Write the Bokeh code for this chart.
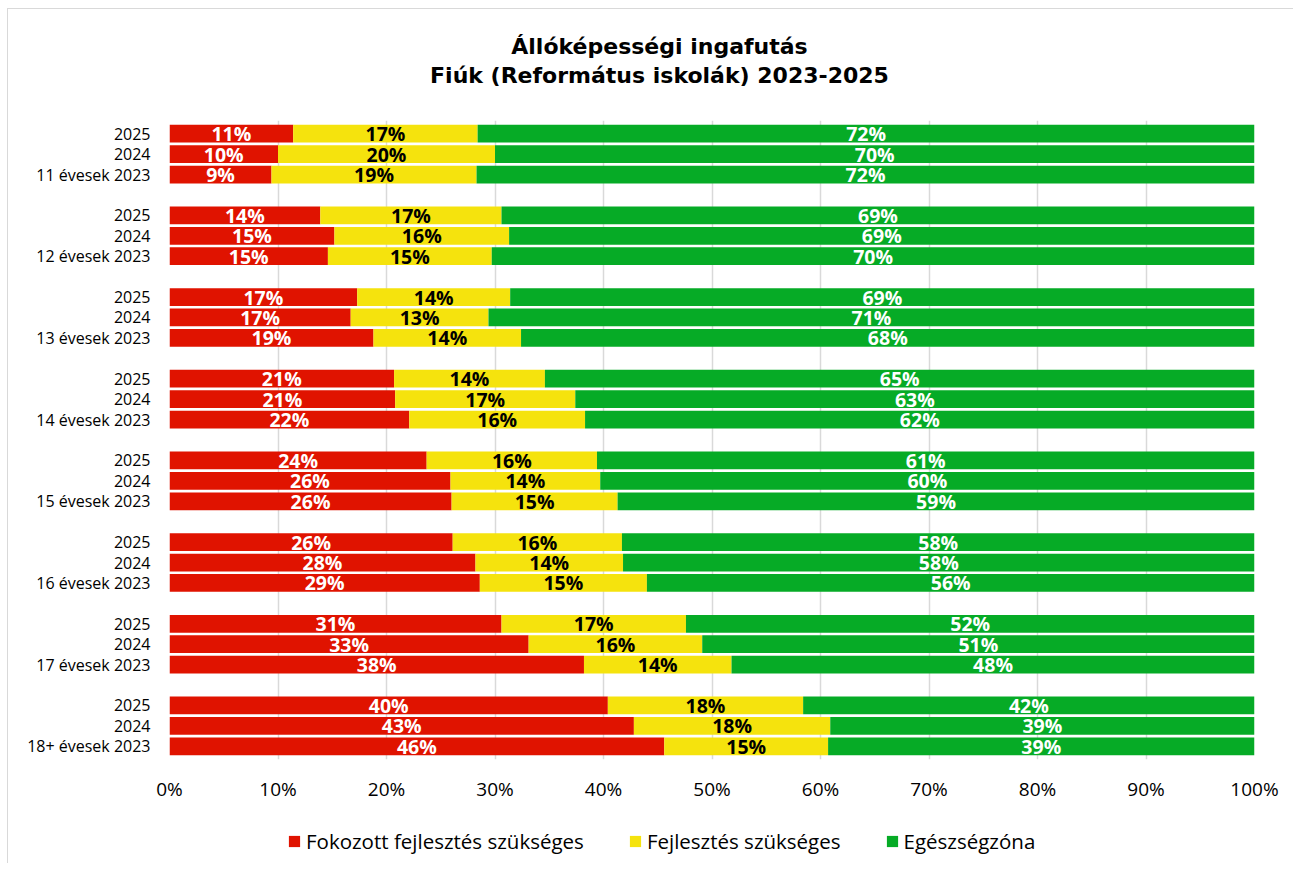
from bokeh.plotting import figure
from bokeh.layouts import column
from bokeh.models import (ColumnDataSource, Range1d, FixedTicker, PrintfTickFormatter,
                          Legend, LegendItem)
from bokeh.core.properties import value
from bokeh.embed import file_html
from bokeh.resources import INLINE

# ---------------- data ----------------
title_lines = ["Állóképességi ingafutás", "Fiúk (Református iskolák) 2023-2025"]
groups = ["11 évesek", "12 évesek", "13 évesek", "14 évesek",
          "15 évesek", "16 évesek", "17 évesek", "18+ évesek"]
years = ["2025", "2024", "2023"]
series_names = ["Fokozott fejlesztés szükséges", "Fejlesztés szükséges", "Egészségzóna"]

# values per group, in order 2025, 2024, 2023 (percent)
fokozott = [11.4, 10.0, 9.4,
            13.9, 15.2, 14.6,
            17.3, 16.7, 18.8,
            20.7, 20.8, 22.1,
            23.7, 25.9, 26.0,
            26.1, 28.2, 28.6,
            30.6, 33.1, 38.2,
            40.4, 42.8, 45.6]
fejlesztes = [17.0, 20.0, 18.9,
              16.7, 16.1, 15.1,
              14.1, 12.7, 13.6,
              13.9, 16.6, 16.2,
              15.7, 13.8, 15.3,
              15.6, 13.6, 15.4,
              17.0, 16.0, 13.6,
              18.0, 18.1, 15.1]
egeszseg = [71.6, 70.0, 71.7,
            69.4, 68.7, 70.3,
            68.6, 70.6, 67.6,
            65.4, 62.6, 61.7,
            60.6, 60.3, 58.7,
            58.3, 58.2, 56.0,
            52.4, 50.9, 48.2,
            41.6, 39.1, 39.3]
x_ticks = [0, 10, 20, 30, 40, 50, 60, 70, 80, 90, 100]

colors = ["#E01300", "#F5E30D", "#06AB26"]
label_colors = ["white", "black", "white"]

# ---------------- geometry ----------------
TOTAL_W = 1285
TITLE_H = 111
LEFT_B, RIGHT_B = 161, 39
BAR_AREA_H = 633          # height of the 31 category slots
PAD = 3                   # extra frame space above/below the bars
BOTTOM_B = 60
LEGEND_H = 44

N_SLOTS = len(groups) * 4 - 1
px_per_slot = BAR_AREA_H / N_SLOTS
pad_units = PAD / px_per_slot
ys, ylabels = [], {}
for g, grp in enumerate(groups):
    for r, yr in enumerate(years):
        k = g * 4 + r
        yv = N_SLOTS - k - 0.5
        ys.append(yv)
        ylabels[yv] = f"{grp} {yr}" if r == len(years) - 1 else yr

# ---------------- title strip (frame is aligned with the chart frame) ----------------
tf = figure(width=TOTAL_W, height=TITLE_H,
            x_range=Range1d(0, 100), y_range=Range1d(TITLE_H, 0),
            min_border=0, min_border_left=LEFT_B, min_border_right=RIGHT_B,
            x_axis_location=None, y_axis_location=None,
            output_backend="svg", toolbar_location=None)
tf.outline_line_color = None
tf.xgrid.grid_line_color = None
tf.ygrid.grid_line_color = None
tf.text(x=[45.16, 45.16], y=[36.5, 66], text=title_lines,
        text_align="center", text_baseline="middle",
        text_font=value("DejaVu Sans"), text_font_style="bold",
        text_font_size="22px", text_color="black")

# ---------------- main chart ----------------
p = figure(width=TOTAL_W, height=BAR_AREA_H + 2 * PAD + BOTTOM_B,
           min_border_left=LEFT_B, min_border_right=RIGHT_B,
           min_border_top=0, min_border_bottom=BOTTOM_B,
           x_range=Range1d(0, 100), y_range=Range1d(-pad_units, N_SLOTS + pad_units),
           output_backend="svg", toolbar_location=None)
p.outline_line_color = None
p.background_fill_color = "white"
p.border_fill_color = "white"

series = [fokozott, fejlesztes, egeszseg]
left = [0.0] * len(ys)
for vals, col, lcol in zip(series, colors, label_colors):
    right = [l + v for l, v in zip(left, vals)]
    src = ColumnDataSource(dict(
        y=ys, left=left, right=right,
        xc=[(l + r) / 2 for l, r in zip(left, right)],
        lbl=[f"{int(v + 0.5)}%" for v in vals]))
    p.hbar(y="y", left="left", right="right", height=0.87, source=src,
           fill_color=col, line_color=None)
    p.text(x="xc", y="y", text="lbl", source=src, text_color=lcol,
           text_font=value("Open Sans"), text_font_style="bold",
           text_font_size="19.5px", text_align="center", text_baseline="middle")
    left = right

# axes
p.xaxis.ticker = FixedTicker(ticks=x_ticks)
p.xaxis.formatter = PrintfTickFormatter(format="%d%%")
p.xaxis.axis_line_color = None
p.xaxis.major_tick_line_color = None
p.xaxis.minor_tick_line_color = None
p.xaxis.major_tick_out = 0
p.xaxis.major_tick_in = 0
p.xaxis.major_label_standoff = 16
p.xaxis.major_label_text_font = "Open Sans"
p.xaxis.major_label_text_font_size = "19px"
p.xaxis.major_label_text_color = "black"

p.yaxis.ticker = FixedTicker(ticks=ys)
p.yaxis.major_label_overrides = ylabels
p.yaxis.axis_line_color = None
p.yaxis.major_tick_line_color = None
p.yaxis.minor_tick_line_color = None
p.yaxis.major_tick_out = 0
p.yaxis.major_tick_in = 0
p.yaxis.major_label_standoff = 19
p.yaxis.major_label_text_font = "Open Sans"
p.yaxis.major_label_text_font_size = "16px"
p.yaxis.major_label_text_color = "black"

p.xgrid.grid_line_color = "#d9d9d9"
p.xgrid.grid_line_width = 1.5
p.ygrid.grid_line_color = None

# ---------------- legend strip ----------------
lf = figure(width=TOTAL_W, height=LEGEND_H,
            x_range=Range1d(0, 100), y_range=Range1d(0, 1),
            min_border=0, min_border_left=LEFT_B, min_border_right=RIGHT_B,
            x_axis_location=None, y_axis_location=None,
            output_backend="svg", toolbar_location=None)
lf.outline_line_color = None
lf.xgrid.grid_line_color = None
lf.ygrid.grid_line_color = None
nan = float("nan")
items = []
for name, col in zip(series_names, colors):
    # swatch-only renderer (NaN data: nothing drawn in the strip itself)
    rr = lf.hbar(y=[nan], left=[nan], right=[nan], height=0.5,
                 fill_color=col, line_color=None)
    items.append(LegendItem(label=name, renderers=[rr]))
legend = Legend(items=items, location="center_left", orientation="horizontal",
                glyph_width=14, glyph_height=14, label_standoff=5,
                padding=0, margin=118, spacing=44,
                border_line_color=None, background_fill_alpha=0,
                label_text_font="Open Sans", label_text_font_size="20.5px",
                label_text_color="black")
lf.add_layout(legend, "center")

layout = column(tf, p, lf, margin=(8, 0, 0, 7),
                styles={"border-left": "1px solid #d9d9d9", "border-top": "1px solid #d9d9d9"})

open("out.html", "w").write(file_html(layout, INLINE))
